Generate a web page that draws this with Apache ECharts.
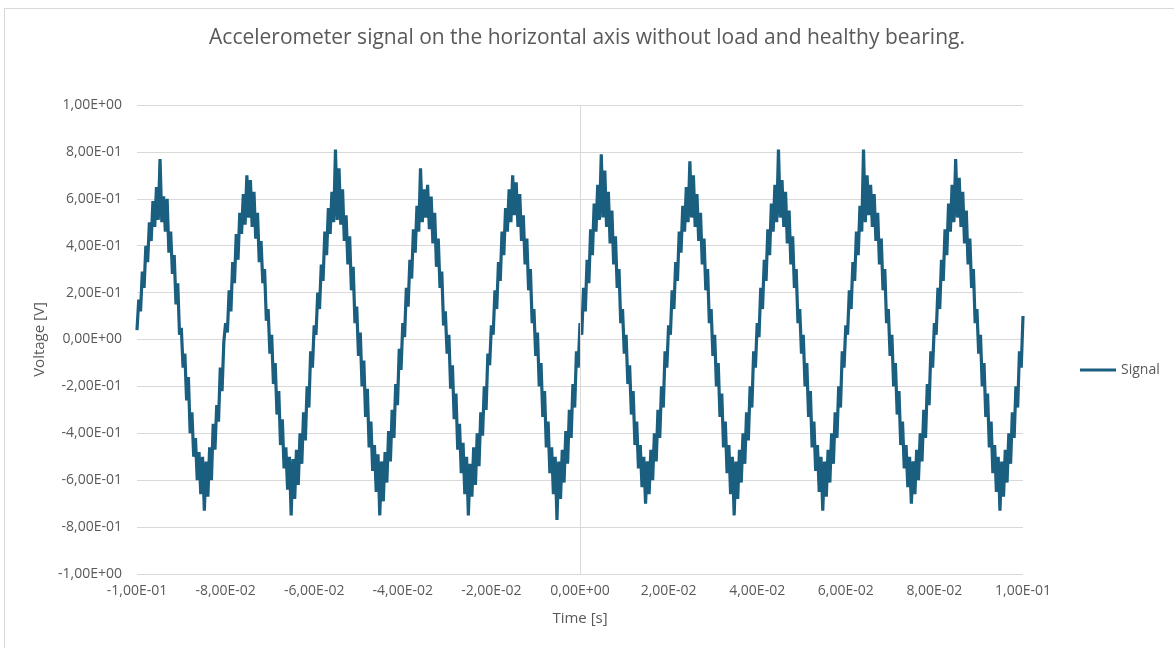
<!DOCTYPE html>
<html>
<head>
<meta charset="utf-8">
<script src="https://cdn.jsdelivr.net/npm/echarts@6/dist/echarts.min.js"></script>
<style>
html,body{margin:0;padding:0;background:#fff;}
#frame{position:absolute;left:4px;top:8px;width:1200px;height:700px;border:1px solid #d9d9d9;pointer-events:none;}
#chart{position:absolute;left:0;top:0;width:1174px;height:648px;}
</style>
</head>
<body>
<div id="chart"></div>
<div id="frame"></div>
<script>
// Sampling grid (time axis)
const T_START = -0.1;
const SAMPLE_STEP = 0.0004; // s

// Signal values [V], read cycle by cycle from the picture
const cycle1 = [0.04,0.17,0.12,0.29,0.22,0.40,0.33,0.50,0.42,0.59,0.48,0.65,0.51,0.77,0.50,0.61,0.46,0.60,0.37,0.46,0.28,0.36,0.15,0.24,0.02,
  0.05,-0.12,-0.06,-0.26,-0.16,-0.40,-0.31,-0.50,-0.42,-0.60,-0.48,-0.66,-0.50,-0.73,-0.52,-0.67,-0.46,-0.60,-0.36,-0.47,-0.28,-0.35,-0.12,-0.22,-0.01];
const cycle2 = [0.07,0.03,0.21,0.12,0.33,0.24,0.45,0.34,0.54,0.45,0.62,0.49,0.70,0.52,0.68,0.48,0.63,0.43,0.54,0.33,0.42,0.24,0.30,0.08,0.13,
  -0.06,0.02,-0.19,-0.10,-0.32,-0.22,-0.45,-0.34,-0.55,-0.46,-0.64,-0.50,-0.75,-0.51,-0.68,-0.47,-0.62,-0.40,-0.53,-0.31,-0.43,-0.20,-0.29,-0.05,-0.12];
const cycle3 = [0.06,0.02,0.20,0.13,0.32,0.25,0.46,0.36,0.56,0.45,0.63,0.50,0.81,0.51,0.73,0.49,0.64,0.42,0.53,0.32,0.44,0.21,0.31,0.07,0.14,
  -0.07,0.03,-0.20,-0.09,-0.33,-0.21,-0.46,-0.35,-0.56,-0.45,-0.65,-0.49,-0.75,-0.52,-0.69,-0.48,-0.61,-0.39,-0.52,-0.30,-0.42,-0.19,-0.28,-0.04,-0.13];
const cycle4 = [0.07,0.01,0.22,0.14,0.34,0.26,0.47,0.37,0.57,0.46,0.73,0.50,0.64,0.52,0.66,0.47,0.61,0.41,0.54,0.31,0.43,0.22,0.29,0.06,0.12,
  -0.06,0.02,-0.21,-0.11,-0.34,-0.23,-0.47,-0.36,-0.57,-0.44,-0.66,-0.50,-0.75,-0.53,-0.67,-0.46,-0.62,-0.40,-0.54,-0.31,-0.41,-0.20,-0.30,-0.06,-0.11];
const cycle5 = [0.06,0.02,0.21,0.13,0.33,0.25,0.46,0.36,0.56,0.46,0.64,0.50,0.70,0.53,0.67,0.48,0.62,0.42,0.53,0.32,0.43,0.21,0.30,0.07,0.13,
  -0.07,0.03,-0.20,-0.10,-0.33,-0.22,-0.46,-0.35,-0.57,-0.46,-0.66,-0.50,-0.77,-0.52,-0.68,-0.47,-0.61,-0.39,-0.53,-0.30,-0.42,-0.19,-0.29,-0.05,-0.12];
const cycle6 = [0.07,0.02,0.22,0.12,0.34,0.24,0.47,0.36,0.58,0.46,0.66,0.51,0.79,0.52,0.72,0.48,0.63,0.41,0.55,0.32,0.44,0.22,0.30,0.07,0.13,
  -0.06,0.02,-0.19,-0.11,-0.32,-0.22,-0.45,-0.35,-0.55,-0.45,-0.63,-0.50,-0.70,-0.52,-0.66,-0.47,-0.60,-0.40,-0.52,-0.30,-0.42,-0.20,-0.29,-0.05,-0.12];
const cycle7 = [0.06,0.02,0.21,0.13,0.33,0.25,0.46,0.37,0.57,0.46,0.65,0.50,0.76,0.52,0.70,0.48,0.62,0.42,0.54,0.32,0.43,0.21,0.30,0.07,0.13,
  -0.07,0.02,-0.20,-0.10,-0.33,-0.23,-0.46,-0.35,-0.57,-0.45,-0.66,-0.50,-0.75,-0.52,-0.68,-0.47,-0.61,-0.40,-0.53,-0.31,-0.43,-0.20,-0.29,-0.05,-0.12];
const cycle8 = [0.07,0.01,0.22,0.13,0.34,0.25,0.47,0.36,0.58,0.46,0.66,0.50,0.81,0.52,0.68,0.48,0.63,0.41,0.55,0.32,0.44,0.22,0.30,0.07,0.13,
  -0.06,0.02,-0.20,-0.10,-0.33,-0.22,-0.46,-0.35,-0.56,-0.45,-0.65,-0.50,-0.73,-0.52,-0.67,-0.47,-0.61,-0.40,-0.53,-0.31,-0.42,-0.20,-0.29,-0.05,-0.12];
const cycle9 = [0.06,0.02,0.21,0.13,0.33,0.25,0.46,0.36,0.57,0.46,0.81,0.50,0.70,0.53,0.66,0.48,0.62,0.42,0.54,0.32,0.43,0.21,0.30,0.07,0.13,
  -0.07,0.02,-0.20,-0.10,-0.32,-0.22,-0.45,-0.35,-0.55,-0.45,-0.63,-0.50,-0.70,-0.52,-0.66,-0.47,-0.60,-0.40,-0.52,-0.30,-0.42,-0.19,-0.28,-0.05,-0.12];
const cycle10 = [0.07,0.02,0.22,0.13,0.34,0.25,0.47,0.36,0.58,0.46,0.66,0.50,0.77,0.52,0.69,0.48,0.63,0.41,0.55,0.32,0.43,0.22,0.30,0.07,0.13,
  -0.06,0.02,-0.20,-0.10,-0.33,-0.23,-0.46,-0.35,-0.57,-0.45,-0.65,-0.50,-0.73,-0.52,-0.67,-0.47,-0.61,-0.40,-0.53,-0.31,-0.42,-0.20,-0.29,-0.05,-0.12];
const lastSample = [0.10];

const signal = [].concat(cycle1,cycle2,cycle3,cycle4,cycle5,cycle6,cycle7,cycle8,cycle9,cycle10,lastSample);
const data = signal.map((v,i)=>[+(T_START + i*SAMPLE_STEP).toFixed(5), v]);

function sci(v){
  if (Math.abs(v) < 1e-12) v = 0;
  const s = v.toExponential(2);
  const m = s.split('e');
  let mant = m[0].replace('.', ',');
  let ex = parseInt(m[1],10);
  const sign = ex < 0 ? '-' : '+';
  ex = Math.abs(ex);
  return mant + 'E' + sign + (ex < 10 ? '0' + ex : '' + ex);
}

const FONT = 'Open Sans';
const GREY = '#595959';
const LINE = '#1a5e80';
const chart = echarts.init(document.getElementById('chart'));
chart.setOption({
  animation:false,
  backgroundColor:'#fff',
  textStyle:{fontFamily:FONT},
  title:{
    text:'Accelerometer signal on the horizontal axis without load and healthy bearing.',
    left:'center', top:23,
    textStyle:{fontFamily:FONT, fontSize:21, fontWeight:'normal', color:GREY}
  },
  legend:{
    orient:'vertical', left:1075, top:358,
    icon:'rect', itemWidth:36, itemHeight:3, itemGap:5,
    textStyle:{fontFamily:FONT, fontSize:14, color:GREY},
    data:['Signal']
  },
  grid:{left:137, right:151, top:105, bottom:74, containLabel:false},
  xAxis:{
    type:'value', min:-0.1, max:0.1, interval:0.02,
    name:'Time [s]', nameLocation:'middle', nameGap:37,
    nameTextStyle:{fontFamily:FONT, fontSize:15, color:GREY},
    axisLine:{show:false}, axisTick:{show:false}, splitLine:{show:false},
    axisLabel:{formatter:sci, fontFamily:FONT, fontSize:14, color:GREY, margin:10, showMinLabel:true, showMaxLabel:true}
  },
  yAxis:{
    type:'value', min:-1, max:1, interval:0.2,
    name:'Voltage [V]', nameLocation:'middle', nameGap:89, nameRotate:90,
    nameTextStyle:{fontFamily:FONT, fontSize:15, color:GREY},
    axisLine:{show:false}, axisTick:{show:false},
    splitLine:{show:true, lineStyle:{color:'#d9d9d9', width:1}},
    axisLabel:{formatter:sci, fontFamily:FONT, fontSize:14, color:GREY, margin:15}
  },
  series:[{
    name:'zeroTimeAxis', type:'line', data:[], z:1, silent:true,
    markLine:{silent:true, symbol:'none', label:{show:false},
      lineStyle:{color:'#d9d9d9', type:'solid', width:1},
      emphasis:{disabled:true},
      data:[{xAxis:0}]}
  },{
    name:'Signal', type:'line', data:data, z:3,
    showSymbol:false, symbol:'none',
    lineStyle:{color:LINE, width:3.2},
    itemStyle:{color:LINE}
  }]
});
</script>
</body>
</html>
